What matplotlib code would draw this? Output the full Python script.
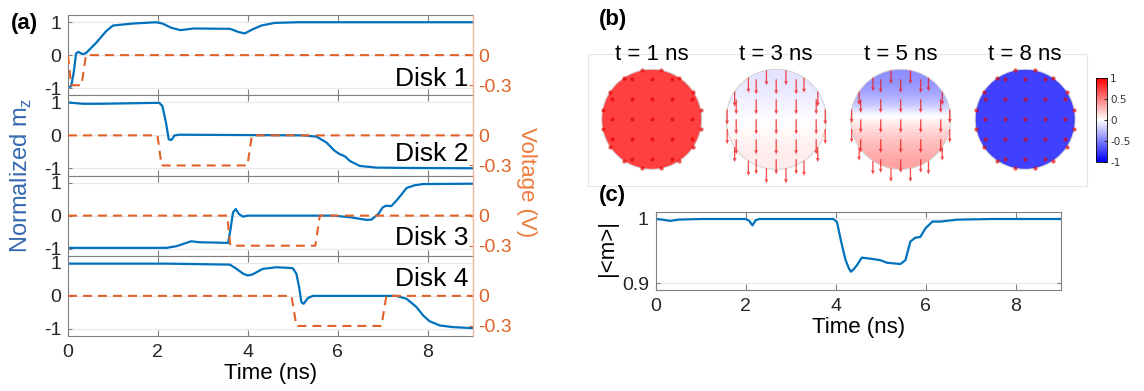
import numpy as np
import matplotlib
matplotlib.use("Agg")
import matplotlib.pyplot as plt
from matplotlib.patches import Circle, Rectangle
from matplotlib.cm import ScalarMappable
from matplotlib.colors import Normalize

plt.rcParams['font.family'] = ['Liberation Sans', 'DejaVu Sans']

W, H = 1144, 391
BLUE = '#0072BD'
ORANGE = '#E0622A'
LABEL_BLUE = '#3569B0'
GRAY = '#808080'

# ---- panel (a): normalized m_z of each disk ----
t_d1 = [0, 0.07, 0.13, 0.18, 0.23, 0.32, 0.4, 0.63, 0.85, 1.0, 1.44, 1.96, 2.1,
        2.3, 2.5, 2.8, 3.6, 3.8, 3.93, 4.1, 4.3, 4.6, 5.1, 9.0]
mz_d1 = [-0.97, -0.95, -0.5, 0.05, 0.1, 0.03, 0.06, 0.38, 0.73, 0.9, 0.96, 1.0, 0.96,
         0.83, 0.76, 0.81, 0.8, 0.7, 0.66, 0.78, 0.9, 0.98, 1.0, 1.0]
t_d2 = [0, 0.33, 0.7, 2.03, 2.1, 2.18, 2.24, 2.3, 2.37, 2.48, 5.23, 5.53, 5.75,
        5.93, 6.04, 6.1, 6.16, 6.27, 6.49, 6.86, 7.5, 9.0]
mz_d2 = [1.0, 0.96, 0.96, 0.99, 0.89, 0.38, -0.12, -0.14, 0.0, 0.02, 0.0, -0.04, -0.22,
         -0.47, -0.57, -0.6, -0.64, -0.78, -0.93, -0.98, -0.99, -1.0]
t_d3 = [0, 2.19, 2.41, 2.63, 2.74, 2.93, 3.3, 3.56, 3.61, 3.67, 3.73, 3.8, 3.89, 4.0,
        5.9, 6.27, 6.64, 6.75, 6.9, 7.0, 7.07, 7.19, 7.3, 7.42, 7.53, 7.7, 7.9, 9.0]
mz_d3 = [-0.98, -0.98, -0.93, -0.83, -0.78, -0.81, -0.82, -0.83, -0.45, 0.1, 0.2, 0.05,
         -0.03, 0.0, 0.0, -0.05, -0.13, -0.12, 0.05, 0.25, 0.3, 0.29, 0.45, 0.65, 0.84,
         0.92, 0.96, 0.97]
t_d4 = [0, 2.2, 3.6, 3.75, 3.9, 4.0, 4.1, 4.33, 4.63, 4.93, 5.0, 5.08, 5.14, 5.19,
        5.24, 5.34, 5.45, 7.3, 7.53, 7.75, 7.9, 8.04, 8.27, 8.56, 9.0]
mz_d4 = [0.98, 0.98, 0.95, 0.82, 0.67, 0.62, 0.65, 0.82, 0.87, 0.85, 0.84, 0.67, 0.26,
         -0.19, -0.24, -0.06, 0.0, 0.0, -0.09, -0.34, -0.6, -0.77, -0.9, -0.95, -0.98]

# voltage pulses (V)
vt_d1 = [0, 0.07, 0.3, 0.4, 9]
v_d1 = [0, -0.3, -0.3, 0, 0]
vt_d2 = [0, 1.99, 2.08, 3.99, 4.09, 9]
vt_d3 = [0, 3.54, 3.61, 5.5, 5.6, 9]
vt_d4 = [0, 4.97, 5.08, 6.97, 7.08, 9]
v_pulse = [0, 0, -0.3, -0.3, 0, 0]

disk_names = ['Disk 1', 'Disk 2', 'Disk 3', 'Disk 4']
mz_series = [(t_d1, mz_d1), (t_d2, mz_d2), (t_d3, mz_d3), (t_d4, mz_d4)]
v_series = [(vt_d1, v_d1), (vt_d2, v_pulse), (vt_d3, v_pulse), (vt_d4, v_pulse)]
label_y = [0.11, 0.18, 0.14, 0.62]

# ---- panel (b): m_z profile (top -> bottom) of each snapshot ----
snap_titles = ['t = 1 ns', 't = 3 ns', 't = 5 ns', 't = 8 ns']
prof_1ns = [1.0, 1.0]
prof_3ns = [-0.14, -0.1, -0.04, 0.02, 0.07, 0.1]
prof_5ns = [-0.58, -0.55, -0.45, -0.3, -0.05, 0.12, 0.25, 0.35, 0.42, 0.48]
prof_8ns = [-1.0, -1.0]
profiles = [prof_1ns, prof_3ns, prof_5ns, prof_8ns]
arrow_len = [0, 15, 13.5, 0]        # in-plane arrow length (px), 0 -> out of plane dot
grid_off = [-40, -20, 0, 20, 40]
cb_ticks = [-1, -0.5, 0, 0.5, 1]

# ---- panel (c): |<m>| ----
tc = [0, 0.15, 0.32, 0.5, 1.0, 2.0, 2.08, 2.15, 2.22, 2.3, 3.0, 3.95, 4.03, 4.12, 4.22,
      4.3, 4.34, 4.4, 4.47, 4.58, 4.69, 4.8, 4.99, 5.14, 5.29, 5.44, 5.55, 5.66, 5.77,
      5.88, 6.0, 6.15, 6.33, 6.7, 7.5, 9.0]
mc = [1.0, 0.999, 0.997, 0.999, 1.0, 1.0, 0.997, 0.99, 0.998, 1.0, 1.0, 1.0, 0.995,
      0.965, 0.936, 0.922, 0.918, 0.922, 0.928, 0.940, 0.939, 0.938, 0.936, 0.932,
      0.931, 0.930, 0.936, 0.965, 0.971, 0.972, 0.986, 0.996, 0.996, 0.999, 1.0, 1.0]

fig = plt.figure(figsize=(W / 100, H / 100), dpi=100)

# full-figure pixel axes for panel (b) drawing
axb = fig.add_axes([0, 0, 1, 1])
axb.set_xlim(0, W)
axb.set_ylim(H, 0)
axb.axis('off')

# ---------------- panel (a) ----------------
a_left, a_right, a_top, a_bot = 68, 472.7, 15, 336
h_each = (a_bot - a_top) / 4
for i in range(4):
    y_top = a_top + i * h_each
    ax = fig.add_axes([a_left / W, 1 - (y_top + h_each) / H,
                       (a_right - a_left) / W, h_each / H])
    ax.plot(*mz_series[i], color=BLUE, lw=1.6)
    ax.set_xlim(0, 9)
    ax.set_ylim(-1.22, 1.22)
    ax.set_yticks([-1, 0, 1])
    ax.set_yticklabels(['-1', '0', '1'])
    ax.set_xticks([0, 2, 4, 6, 8])
    ax.yaxis.grid(True, color='#e8e8e8', lw=0.9)
    ax.set_axisbelow(True)
    ax.tick_params(axis='x', direction='in', top=True, bottom=True, length=4,
                   color=GRAY, labelsize=14, pad=6, labelcolor='#262626')
    ax.tick_params(axis='y', direction='in', length=3, color=GRAY, labelsize=14,
                   pad=5, labelcolor='#262626')
    for s in ['left', 'top', 'bottom']:
        ax.spines[s].set_color(GRAY)
        ax.spines[s].set_linewidth(0.8)
    ax.spines['right'].set_visible(False)
    if i < 3:
        ax.tick_params(axis='x', labelbottom=False)
    else:
        ax.set_xlabel('Time (ns)', fontsize=16, labelpad=1)
    ax.text(0.99, label_y[i], disk_names[i], transform=ax.transAxes, ha='right',
            va='baseline', fontsize=19, color='black')

    axr = ax.twinx()
    axr.plot(*v_series[i], color=ORANGE, lw=1.5, dashes=(4.3, 2.9))
    axr.set_ylim(-0.4, 0.4)
    axr.set_yticks([-0.3, 0])
    axr.set_yticklabels(['-0.3', '0'])
    axr.tick_params(axis='y', direction='in', length=3, color=ORANGE, labelsize=14,
                    pad=4, labelcolor=ORANGE)
    for s in ['left', 'top', 'bottom']:
        axr.spines[s].set_visible(False)
    axr.spines['right'].set_color('#F0B49A')
    axr.spines['right'].set_linewidth(1.0)

fig.text(21 / W, 1 - 175.5 / H, r'Normalized m$_\mathregular{z}$', rotation=90,
         ha='center', va='center', fontsize=17, color=LABEL_BLUE)
fig.text(527 / W, 1 - 182.5 / H, 'Voltage (V)', rotation=270, ha='center',
         va='center', fontsize=16, color='#EC7A3C')
fig.text(24 / W, 1 - 24 / H, '(a)', ha='center', va='center', fontsize=16,
         fontweight='bold')

# ---------------- panel (b) ----------------
axb.add_patch(Rectangle((588, 54), 499, 132, fill=False, ec='#e6e6e6', lw=0.8))
cx0, dcx, cy, r = 651.7, 124.5, 119.3, 50
ang = (np.arange(16) + 0.5) * 22.5
for k in range(4):
    cx = cx0 + k * dcx
    circ = Circle((cx, cy), r, transform=axb.transData, fc='none', ec='#d0d0d0', lw=0.8)
    img = np.array(profiles[k])[:, None]
    im = axb.imshow(img, extent=(cx - r, cx + r, cy + r, cy - r), cmap='bwr',
                    vmin=-1, vmax=1, alpha=0.75, interpolation='bilinear',
                    aspect='auto', zorder=1)
    im.set_clip_path(circ)
    axb.add_patch(Circle((cx, cy), r, fc='none', ec='#d0d0d0', lw=0.7, zorder=2))
    gx, gy = np.meshgrid(grid_off, grid_off)
    keep = gx ** 2 + gy ** 2 < 48 ** 2
    px = np.concatenate([cx + gx[keep], cx + r * np.cos(np.radians(ang))])
    py = np.concatenate([cy + gy[keep], cy + r * np.sin(np.radians(ang))])
    if arrow_len[k] == 0:
        axb.scatter(px, py, s=9, color='#e00000', alpha=0.65, lw=0, zorder=3)
    else:
        axb.quiver(px, py, np.zeros_like(px), np.full_like(px, arrow_len[k]),
                   units='xy', angles='xy', scale_units='xy', scale=1, width=1.3,
                   headwidth=3.0, headlength=3.2, headaxislength=3.0,
                   color='#f01010', alpha=0.75, zorder=3)
    axb.text(cx, 60, snap_titles[k], ha='center', va='baseline', fontsize=16)

fig.text(613 / W, 1 - 20 / H, '(b)', ha='center', va='center', fontsize=16,
         fontweight='bold')

cax = fig.add_axes([1095.5 / W, 1 - 161.7 / H, 11.8 / W, 83.4 / H])
cb = fig.colorbar(ScalarMappable(norm=Normalize(-1, 1), cmap='bwr'), cax=cax,
                  ticks=cb_ticks)
cb.ax.set_yticklabels(['-1', '-0.5', '0', '0.5', '1'])
cb.ax.tick_params(direction='in', length=2.5, labelsize=7.5, pad=2, color='#333333',
                  labelcolor='#333333')
for lab in cb.ax.get_yticklabels():
    lab.set_family('DejaVu Sans')
cb.outline.set_linewidth(0.6)

# ---------------- panel (c) ----------------
c_left, c_right, c_top, c_bot = 655.7, 1060.7, 212.3, 290
axc = fig.add_axes([c_left / W, 1 - c_bot / H, (c_right - c_left) / W,
                    (c_bot - c_top) / H])
axc.plot(tc, mc, color=BLUE, lw=1.6)
axc.set_xlim(0, 9)
axc.set_ylim(0.8896, 1.0104)
axc.set_yticks([0.9, 1.0])
axc.set_yticklabels(['0.9', '1'])
axc.set_xticks([0, 2, 4, 6, 8])
axc.yaxis.grid(True, color='#e8e8e8', lw=0.9)
axc.set_axisbelow(True)
axc.tick_params(axis='x', direction='in', top=True, bottom=True, length=4,
                color=GRAY, labelsize=14, pad=6, labelcolor='#262626')
axc.tick_params(axis='y', direction='in', right=True, length=3, color=GRAY,
                labelsize=14, pad=5, labelcolor='#262626')
for s in axc.spines.values():
    s.set_color(GRAY)
    s.set_linewidth(0.8)
axc.set_xlabel('Time (ns)', fontsize=16, labelpad=1)
fig.text(607 / W, 1 - 248 / H, '|<m>|', rotation=90, ha='center', va='center',
         fontsize=16)
fig.text(612 / W, 1 - 196 / H, '(c)', ha='center', va='center', fontsize=16,
         fontweight='bold')

fig.savefig('out.png', dpi=100)
